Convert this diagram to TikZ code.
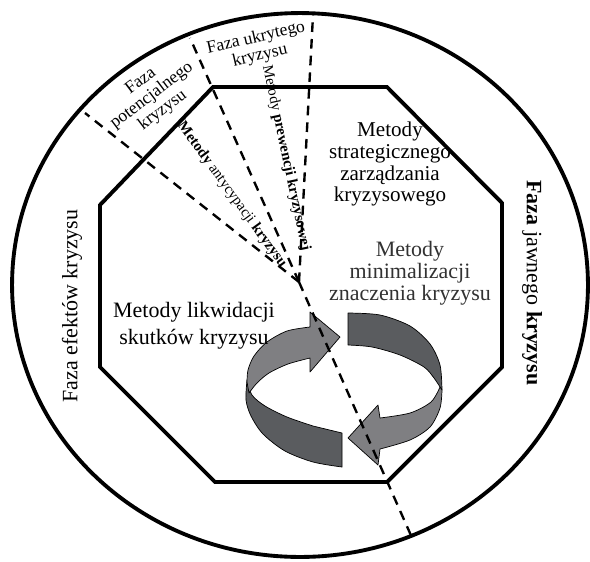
\documentclass[tikz,border=0pt]{standalone}
\usepackage{fontspec}
\setmainfont{Liberation Serif}
\usepackage{tikz}
\definecolor{ringlight}{RGB}{127,127,130}
\definecolor{ringdark}{RGB}{90,92,95}
\definecolor{textgrey}{RGB}{50,50,50}
\tikzstyle{border}=[draw, line width=2.2pt, line join=miter]
\tikzstyle{phaseline}=[draw=black, line width=1.35pt, dash pattern=on 5.5pt off 4pt]
\tikzstyle{ring}=[draw=black, line width=0.4pt, line join=round]
\tikzstyle{phase label}=[align=center, inner sep=0pt, font=\fontsize{10}{10.3}\selectfont]
\tikzstyle{method label}=[align=center, inner sep=0pt, font=\fontsize{12}{12.5}\selectfont]
\tikzstyle{ray label}=[inner sep=0pt, font=\fontsize{8.5}{10}\selectfont]
\tikzstyle{side label}=[inner sep=0pt, font=\fontsize{12.5}{15}\selectfont]

\begin{document}
\begin{tikzpicture}[x=0.02cm, y=-0.02cm]
    \useasboundingbox (0,0) rectangle (590,561);
    % Outer ellipse and the octagon
    \draw[border] (300,285) ellipse [x radius=5.76cm, y radius=5.44cm];
    \draw[border] (213,87) -- (387,87) -- (502,203) -- (502,367) -- (387,482)
        -- (215,482) -- (100,367) -- (100,205) -- cycle;

    % Circular arrows: left one
    \fill[ring, fill=ringdark] plot[smooth] coordinates {(247,380) (246,400) (251,416) (263,434) (285,451) (313,462) (342,467)}
        -- (342,433) -- plot[smooth] coordinates {(313,426) (287,417) (265,406) (252,395) (247,380)} -- cycle;
    \fill[ring, fill=ringlight] (340,337) -- (310,312) -- (310,327)
        -- plot[smooth] coordinates {(310,327) (287,331) (267,342) (254,356) (248,370) (247,382)}
        -- (249,393) -- plot[smooth] coordinates {(249,393) (257,383) (269,373) (288,364) (310,358)}
        -- (310,372) -- cycle;
    % right one
    \fill[ring, fill=ringdark] (348,313) -- plot[smooth] coordinates {(348,313) (380,315) (410,326) (430,344) (440,365) (442,390)}
        -- plot[smooth] coordinates {(440,387) (434,378) (424,367) (400,355) (372,347) (348,345)} -- cycle;
    \fill[ring, fill=ringlight] plot[smooth] coordinates {(440,387) (431,402) (410,413) (380,418)}
        -- (378,405) -- (348,438) -- (378,465) -- (380,449)
        -- plot[smooth] coordinates {(380,449) (410,440) (430,427) (440,408) (442,390)} -- cycle;

    % Borders between the phases
    \coordinate (centre) at (299,282);
    \coordinate (potentialEnd) at (85,113);
    \coordinate (hiddenEnd) at (190,38);
    \coordinate (openEnd) at (313,15);
    \coordinate (effectsEnd) at (413,540);
    \draw[phaseline] (centre) -- (potentialEnd);
    \draw[phaseline] (centre) -- (hiddenEnd);
    \draw[phaseline] (centre) -- (openEnd);
    \draw[phaseline] (centre) -- (effectsEnd);

    % Phases
    \node[phase label, rotate=37] (potential) at (152,96) {Faza\\potencjalnego\\kryzysu};
    \node[phase label, rotate=13] (hidden) at (258,47) {Faza ukrytego\\kryzysu};
    \node[side label, rotate=90] (effects) at (72,306) {Faza efektów kryzysu};
    \node[side label, rotate=-90] (open) at (532,283) {\textbf{Faza} jawnego \textbf{kryzysu}};

    % Methods
    \node[ray label, rotate=-54] (anticip) at (232,195) {\textbf{Metody} antycypacji \textbf{kryzysu}};
    \node[ray label, rotate=-78] (prevent) at (286,158) {Metody \textbf{prewencji kryzysowej}};
    \node[method label] (strategic) at (390,164) {Metody\\strategicznego\\zarządzania\\kryzysowego};
    \node[method label, text=textgrey, font=\fontsize{12.5}{12.5}\selectfont] (minimal) at (410,273) {Metody\\minimalizacji\\znaczenia kryzysu};
    \node[method label, font=\fontsize{12.5}{15.5}\selectfont] (liquid) at (194,326) {Metody likwidacji\\skutków kryzysu};
\end{tikzpicture}
\end{document}
